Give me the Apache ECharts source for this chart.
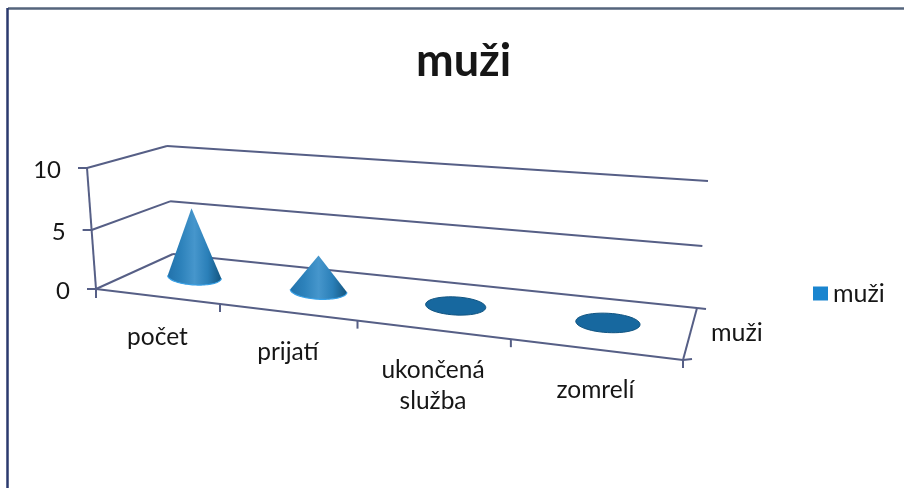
<!DOCTYPE html>
<html>
<head>
<meta charset="utf-8">
<style>
  html, body { margin: 0; padding: 0; background: #fff; }
  #chart { width: 904px; height: 488px; }
</style>
<script src="https://cdn.jsdelivr.net/npm/echarts@6/dist/echarts.min.js"></script>
</head>
<body>
<div id="chart"></div>
<script>
const chartTitle = 'muži'
const seriesName = 'muži'
const categories = ['počet', 'prijatí', 'ukončená\nslužba', 'zomrelí']
const menValues = [6, 3, 0, 0]
const yTicks = [0, 5, 10]
const yMax = 10

const fontFamily = 'Lato, "Noto Sans", sans-serif'
const textColor = '#161616'
const lineColor = '#565f86'

// floor corners of the 3D box on screen
const floorA = [96, 289]   // front left
const floorB = [683, 360]  // front right
const floorC = [173, 254]  // back left
const floorD = [697, 308]  // back right

// how far the top of the value axis sits from each floor corner
const leanA = [-9, -121]
const leanB = [12, -141]
const leanC = [-6, -108]
const leanD = [11, -127]

// unit square -> floor quad
const dx1 = floorB[0] - floorD[0], dx2 = floorC[0] - floorD[0]
const dy1 = floorB[1] - floorD[1], dy2 = floorC[1] - floorD[1]
const sx = floorA[0] - floorB[0] + floorD[0] - floorC[0]
const sy = floorA[1] - floorB[1] + floorD[1] - floorC[1]
const det = dx1 * dy2 - dx2 * dy1
const g = (sx * dy2 - dx2 * sy) / det
const h = (dx1 * sy - sx * dy1) / det

function floorPoint(u, d) {
  const w = g * u + h * d + 1
  return [
    ((floorB[0] * (g + 1) - floorA[0]) * u + (floorC[0] * (h + 1) - floorA[0]) * d + floorA[0]) / w,
    ((floorB[1] * (g + 1) - floorA[1]) * u + (floorC[1] * (h + 1) - floorA[1]) * d + floorA[1]) / w
  ]
}

function project(u, d, v) {
  const p = floorPoint(u, d)
  // values sag a little in the middle, the top is further from the camera
  const sag = v - 0.05 * v * (1 - v)
  const lean = [0, 1].map(k =>
    (1 - d) * ((1 - u) * leanA[k] + u * leanB[k]) + d * ((1 - u) * leanC[k] + u * leanD[k]))
  return [p[0] + lean[0] * sag, p[1] + lean[1] * sag]
}

// the grid is hidden, its scales give u and v for the box
function toBox(params, pt) {
  const r = params.coordSys
  return [(pt[0] - r.x) / r.width, (r.y + r.height - pt[1]) / r.height]
}

function line(p, q, width) {
  return {
    type: 'line',
    shape: {x1: p[0], y1: p[1], x2: q[0], y2: q[1]},
    style: {stroke: lineColor, lineWidth: width || 2, fill: null}
  }
}

function label(text, x, y, size, align, vAlign, lh) {
  return {
    type: 'text',
    style: {
      text: text, x: x, y: y, fill: textColor,
      font: size + 'px ' + fontFamily,
      align: align, verticalAlign: vAlign, lineHeight: lh
    }
  }
}

function renderWalls(params, api) {
  const v = toBox(params, api.coord([0, api.value(1)]))[1]
  const a = project(0, 0, v), c = project(0, 1, v), d = project(1, 1, v)
  const children = [line(a, c), line(c, d)]
  children.push(line([a[0] - 9, a[1]], a))
  children.push(label(String(api.value(1)), a[0] - 26, a[1] + 2, 24, 'right', 'middle'))
  if (v === 0) {
    const b = project(1, 0, 0)
    const top = project(0, 0, 1)
    children.push(line(a, b), line(a, top), line(a, [a[0], a[1] + 9]))
    children.push(line(b, d), line(d, [d[0] + 9, d[1] + 1]), line(b, [b[0] + 9, b[1] - 1]), line(b, [b[0], b[1] + 8]))
    children.push(label(seriesName, 711, 333, 25, 'left', 'middle'))
  }
  return {type: 'group', children: children}
}

function renderCategory(params, api) {
  const i = api.value(0)
  const u = toBox(params, api.coord([i, 0]))[0]
  const mid = floorPoint(u, 0)
  const children = [label(categories[i], mid[0] + 1, mid[1] + 25, 24.5, 'center', 'top', 31)]
  if (i < categories.length - 1) {
    const t = floorPoint(u + 0.5 / categories.length, 0)
    children.push(line(t, [t[0], t[1] + 8]))
  }
  return {type: 'group', children: children}
}

function ellipsePoints(c, ax, ay, ry, from, to) {
  const pts = []
  const len = Math.hypot(ax, ay)
  for (let k = 0; k <= 48; k++) {
    const t = from + (to - from) * k / 48
    const cos = Math.cos(t), sin = Math.sin(t)
    pts.push([
      c[0] + ax * cos - ay / len * ry * sin,
      c[1] + ay * cos + ax / len * ry * sin
    ])
  }
  return pts
}

function renderCone(params, api) {
  const box = toBox(params, api.coord([api.value(0), api.value(1)]))
  const u = box[0], depth = 0.5
  const c = floorPoint(u, depth)
  const l = floorPoint(u - 0.052, depth), r = floorPoint(u + 0.052, depth)
  const rx = Math.hypot(r[0] - l[0], r[1] - l[1]) / 2 * 0.6 + 12
  const tilt = Math.atan2(r[1] - l[1], r[0] - l[0]) * 0.5
  const ax = rx * Math.cos(tilt), ay = rx * Math.sin(tilt)
  const ry = rx * 0.3

  if (box[1] === 0) {
    return {
      type: 'polygon',
      shape: {points: ellipsePoints(c, ax, ay, ry, 0, Math.PI * 2)},
      style: {fill: '#17689f', stroke: '#125582', lineWidth: 1}
    }
  }

  const tip = project(u, depth, box[1])
  const rim = ellipsePoints(c, ax, ay, ry, 0, Math.PI)
  return {
    type: 'group',
    children: [
      {
        type: 'polygon',
        shape: {points: [tip].concat(rim)},
        style: {
          fill: {
            type: 'linear', x: 0, y: 0, x2: 1, y2: 0,
            colorStops: [
              {offset: 0, color: '#2272ab'},
              {offset: 0.25, color: '#2d82bb'},
              {offset: 0.5, color: '#4696cc'},
              {offset: 0.75, color: '#2a7fb8'},
              {offset: 1, color: '#14557f'}
            ]
          }
        }
      },
      {
        type: 'polyline',
        shape: {points: rim},
        style: {stroke: '#38a0e6', lineWidth: 1.2, fill: null}
      }
    ]
  }
}

const option = {
  animation: false,
  backgroundColor: '#fff',
  title: {
    text: chartTitle,
    left: 411,
    top: 34,
    textStyle: {fontFamily: fontFamily, fontSize: 45, fontWeight: 'bold', color: textColor}
  },
  legend: {
    data: [seriesName],
    left: 808,
    top: 276,
    icon: 'rect',
    itemWidth: 15,
    itemHeight: 14,
    itemGap: 6,
    textStyle: {fontFamily: fontFamily, fontSize: 25, color: textColor},
    selectedMode: false
  },
  grid: {left: 96, top: 168, width: 587, height: 121},
  xAxis: {type: 'category', data: categories, show: false},
  yAxis: {type: 'value', min: 0, max: yMax, interval: 5, show: false},
  graphic: [
    {type: 'line', shape: {x1: 8, y1: 8.5, x2: 904, y2: 8.5}, style: {stroke: '#55657c', lineWidth: 2.5}},
    {type: 'line', shape: {x1: 7.5, y1: 8, x2: 7.5, y2: 488}, style: {stroke: '#2b3a6e', lineWidth: 2.5}}
  ],
  series: [
    {
      type: 'custom',
      name: 'walls',
      silent: true,
      z: 1,
      renderItem: renderWalls,
      encode: {x: 0, y: 1},
      data: yTicks.map(t => [0, t])
    },
    {
      type: 'custom',
      name: 'categories',
      silent: true,
      z: 1,
      renderItem: renderCategory,
      encode: {x: 0, y: 1},
      data: categories.map((c, i) => [i, 0])
    },
    {
      type: 'custom',
      name: seriesName,
      silent: true,
      z: 2,
      itemStyle: {color: '#1a85cf'},
      renderItem: renderCone,
      encode: {x: 0, y: 1},
      data: menValues.map((v, i) => [i, v])
    }
  ]
}

const myChart = echarts.init(document.getElementById('chart'))
myChart.setOption(option)
</script>
</body>
</html>
